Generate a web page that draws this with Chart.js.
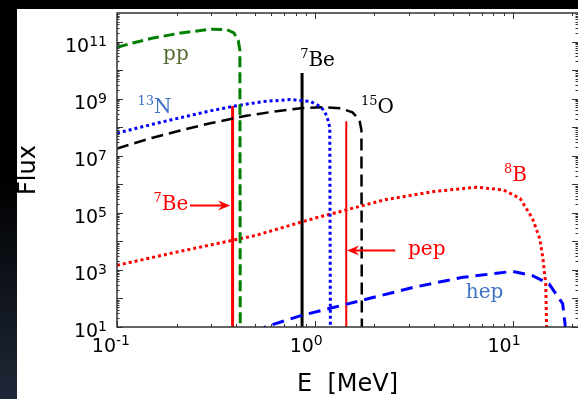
<!DOCTYPE html>
<html><head><meta charset="utf-8">
<script src="https://cdn.jsdelivr.net/npm/chart.js@4/dist/chart.umd.min.js"></script>
<style>html,body{margin:0;padding:0;background:#fff;}canvas{display:block;}</style>
</head><body>
<canvas id="c" width="578" height="399"></canvas>
<script>
// ---- data (energy in MeV, flux) ----
const ppE    = [0.10, 0.12, 0.15, 0.21, 0.30, 0.36, 0.39, 0.41, 0.418, 0.42];
const ppFlux = [6.3e10, 8.9e10, 1.3e11, 2.0e11, 2.7e11, 2.6e11, 2.0e11, 1.1e11, 5e10, 1];

const n13E    = [0.10, 0.15, 0.20, 0.30, 0.40, 0.55, 0.75, 0.95, 1.08, 1.15, 1.19, 1.20];
const n13Flux = [6.2e7, 1.25e8, 2.0e8, 3.8e8, 5.6e8, 7.9e8, 9.3e8, 8.0e8, 5.0e8, 2.5e8, 1.0e8, 1];

const o15E    = [0.10, 0.15, 0.20, 0.30, 0.45, 0.60, 0.85, 1.10, 1.35, 1.55, 1.68, 1.72, 1.73];
const o15Flux = [1.8e7, 4.2e7, 7.1e7, 1.4e8, 2.5e8, 3.4e8, 4.6e8, 5.0e8, 4.6e8, 3.3e8, 1.8e8, 8e7, 1];

const b8E    = [0.10, 0.20, 0.50, 1.0, 2.3, 4.0, 6.6, 9.0, 10.9, 12.6, 13.7, 14.2, 14.7, 14.95];
const b8Flux = [1.45e3, 4.2e3, 1.6e4, 6.5e4, 2.95e5, 5.6e5, 7.9e5, 6.3e5, 3.2e5, 6.3e4, 1.26e4, 2.75e3, 3.2e2, 1];

const hepE    = [0.50, 0.56, 0.85, 1.24, 2.15, 3.15, 5.6, 10.0, 12.6, 15.3, 17.9, 18.4, 18.6];
const hepFlux = [1, 10, 25, 48, 126, 245, 550, 890, 630, 320, 66, 13, 1];

// mono-energetic lines: [energy, flux]
const be7Line    = [0.862, 7.9e9];
const be7RedLine = [0.384, 5.5e8];
const pepLine    = [1.442, 1.6e8];

// arrows: [fromE, toE, flux]
const be7Arrow = [0.234, 0.373, 1.8e5];
const pepArrow = [2.55, 1.456, 4.8e3];

// text labels: [superscript, text, E, flux]
const labelPP   = ['',   'pp',  0.171, 2.2e10];
const label13N  = ['13', 'N',   0.127, 3.1e8];
const label7Be  = ['7',  'Be',  0.843, 1.4e10];
const label15O  = ['15', 'O',   1.71,  3.1e8];
const label8B   = ['8',  'B',   9.04,  1.26e6];
const label7BeR = ['7',  'Be',  0.153, 1.23e5];
const labelPep  = ['',   'pep', 2.96,  3.2e3];
const labelHep  = ['',   'hep', 5.8,   1.0e2];

const xTickVals = [0.1, 1, 10];
const yTickVals = [1e1, 1e3, 1e5, 1e7, 1e9, 1e11];

// ---- helpers ----
function expOf(v){ return String(Math.round(Math.log10(v))); }
function pts(xs, ys){ return xs.map((x,i)=>({x:x, y:ys[i]})); }
function vline(l){ return [{x:l[0], y:l[1]}, {x:l[0], y:1}]; }

const bgPlugin = {
  id:'bg',
  beforeDraw(chart){
    const ctx = chart.ctx, W = chart.width, H = chart.height;
    ctx.save();
    ctx.fillStyle = '#fff'; ctx.fillRect(0,0,W,H);
    ctx.fillStyle = '#000'; ctx.fillRect(0,0,W,9);
    const g = ctx.createLinearGradient(0,0,0,H);
    g.addColorStop(0,'#000'); g.addColorStop(0.45,'#000'); g.addColorStop(1,'#1f2838');
    ctx.fillStyle = g; ctx.fillRect(0,0,17,H);
    ctx.restore();
  }
};

const BASE_FONT = '19px "DejaVu Sans"', EXP_FONT = '14px "DejaVu Sans"';
const framePlugin = {
  id:'frame',
  afterDatasetsDraw(chart){
    const ctx = chart.ctx, a = chart.chartArea, xs = chart.scales.x, ys = chart.scales.y;
    ctx.save();
    // arrows
    ctx.strokeStyle = '#ff0000'; ctx.fillStyle = '#ff0000'; ctx.lineWidth = 2;
    [be7Arrow, pepArrow].forEach(ar=>{
      const x1 = xs.getPixelForValue(ar[0]), x2 = xs.getPixelForValue(ar[1]), y = ys.getPixelForValue(ar[2]);
      const dir = Math.sign(x2-x1);
      ctx.beginPath(); ctx.moveTo(x1,y); ctx.lineTo(x2-dir*8,y); ctx.stroke();
      ctx.beginPath(); ctx.moveTo(x2,y); ctx.lineTo(x2-dir*12,y-5); ctx.lineTo(x2-dir*8,y); ctx.lineTo(x2-dir*12,y+5); ctx.closePath(); ctx.fill();
    });
    // curve labels
    const labs = [[labelPP,'#556b2f'],[label13N,'#3f73c8'],[label7Be,'#000'],[label15O,'#000'],
                  [label8B,'#ff0000'],[label7BeR,'#ff0000'],[labelPep,'#ff0000'],[labelHep,'#3f73c8']];
    ctx.textBaseline = 'alphabetic'; ctx.textAlign = 'left';
    labs.forEach(([l,col])=>{
      let x = xs.getPixelForValue(l[2]); const y = ys.getPixelForValue(l[3]);
      ctx.fillStyle = col;
      if (l[0]) { ctx.font = '13px "DejaVu Serif"'; ctx.fillText(l[0], x, y-8); x += ctx.measureText(l[0]).width; }
      ctx.font = '20px "DejaVu Serif"'; ctx.fillText(l[1], x, y);
    });
    // frame
    ctx.strokeStyle = '#333'; ctx.lineWidth = 1.5;
    ctx.strokeRect(a.left, a.top, a.right-a.left+2, a.bottom-a.top);
    ctx.lineWidth = 1;
    ctx.beginPath();
    for (let d=-1; d<=1; d++) for (let m=1; m<=9; m++){
      const v = m*Math.pow(10,d); if (v<xs.min || v>xs.max) continue;
      const px = Math.round(xs.getPixelForValue(v))+0.5, L = m===1?6:3;
      ctx.moveTo(px,a.bottom); ctx.lineTo(px,a.bottom-L);
      ctx.moveTo(px,a.top); ctx.lineTo(px,a.top+L);
    }
    for (let d=1; d<=11; d++) for (let m=1; m<=9; m++){
      const v = m*Math.pow(10,d); if (v<ys.min || v>ys.max) continue;
      const py = Math.round(ys.getPixelForValue(v))+0.5, L = m===1?6:2.5;
      ctx.moveTo(a.left,py); ctx.lineTo(a.left+L,py);
      ctx.moveTo(a.right,py); ctx.lineTo(a.right-L,py);
    }
    ctx.stroke();
    // tick labels: "10" with raised exponent
    ctx.fillStyle = '#000';
    ys.ticks.forEach(t=>{
      const py = ys.getPixelForValue(t.value), e = expOf(t.value);
      ctx.font = EXP_FONT; const ew = ctx.measureText(e).width;
      const xr = a.left - 10;
      ctx.textAlign = 'right';
      ctx.fillText(e, xr, py + 4);
      ctx.font = BASE_FONT; ctx.fillText('10', xr - ew, py + 10);
    });
    xs.ticks.forEach(t=>{
      const px = xs.getPixelForValue(t.value), e = expOf(t.value);
      ctx.textAlign = 'right'; ctx.font = BASE_FONT; ctx.fillText('10', px - 1, a.bottom + 25);
      ctx.textAlign = 'left'; ctx.font = EXP_FONT; ctx.fillText(e, px - 1, a.bottom + 18);
    });
    ctx.restore();
  }
};

const common = {showLine:true, pointRadius:0, fill:false, tension:0};
new Chart(document.getElementById('c'), {
  type:'scatter',
  data:{datasets:[
    Object.assign({label:'pp',  data:pts(ppE,ppFlux),   borderColor:'#008000', borderWidth:3,   borderDash:[11,5]}, common),
    Object.assign({label:'13N', data:pts(n13E,n13Flux), borderColor:'#0000ff', borderWidth:3,   borderDash:[3,3]}, common),
    Object.assign({label:'15O', data:pts(o15E,o15Flux), borderColor:'#000000', borderWidth:2.5, borderDash:[12,6]}, common),
    Object.assign({label:'8B',  data:pts(b8E,b8Flux),   borderColor:'#ff0000', borderWidth:3,   borderDash:[3,3]}, common),
    Object.assign({label:'hep', data:pts(hepE,hepFlux), borderColor:'#0000ff', borderWidth:3,   borderDash:[12,7]}, common),
    Object.assign({label:'7Be', data:vline(be7Line),    borderColor:'#000000', borderWidth:3}, common),
    Object.assign({label:'7Be 0.384', data:vline(be7RedLine), borderColor:'#ff0000', borderWidth:3}, common),
    Object.assign({label:'pep', data:vline(pepLine),    borderColor:'#ff0000', borderWidth:2}, common)
  ]},
  plugins:[bgPlugin, framePlugin],
  options:{
    responsive:false, devicePixelRatio:1, animation:false,
    layout:{padding:{left:14, top:13, right:0, bottom:0}},
    plugins:{legend:{display:false}, tooltip:{enabled:false}},
    scales:{
      x:{type:'logarithmic', min:0.1, max:21.4,
         grid:{display:false}, border:{display:false},
         afterBuildTicks:s=>{ s.ticks = xTickVals.map(v=>({value:v})); },
         afterFit:s=>{ s.height = 72; },
         ticks:{display:false},
         title:{display:true, text:'E  [MeV]', color:'#000', font:{family:'DejaVu Sans', size:24}, padding:{top:0,bottom:0}}},
      y:{type:'logarithmic', min:10, max:1e12,
         grid:{display:false}, border:{display:false},
         afterBuildTicks:s=>{ s.ticks = yTickVals.map(v=>({value:v})); },
         afterFit:s=>{ s.width = 103; },
         ticks:{display:false},
         title:{display:true, text:'Flux', color:'#000', font:{family:'DejaVu Sans', size:24}, padding:{top:0,bottom:0}}}
    }
  }
});
</script>
</body></html>
